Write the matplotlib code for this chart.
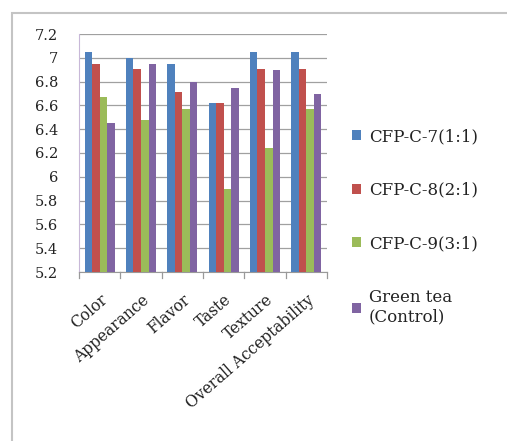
import matplotlib.pyplot as plt
import numpy as np
from matplotlib.patches import Rectangle

categories = ["Color", "Appearance", "Flavor", "Taste", "Texture", "Overall Acceptability"]
series_names = ["CFP-C-7(1:1)", "CFP-C-8(2:1)", "CFP-C-9(3:1)", "Green tea\n(Control)"]
cfp7 = [7.05, 7.00, 6.95, 6.62, 7.05, 7.05]
cfp8 = [6.95, 6.91, 6.71, 6.62, 6.91, 6.91]
cfp9 = [6.67, 6.48, 6.57, 5.90, 6.24, 6.57]
green_tea = [6.45, 6.95, 6.80, 6.75, 6.90, 6.70]
yticks = [5.2, 5.4, 5.6, 5.8, 6.0, 6.2, 6.4, 6.6, 6.8, 7.0, 7.2]
ytick_labels = ["5.2", "5.4", "5.6", "5.8", "6", "6.2", "6.4", "6.6", "6.8", "7", "7.2"]

colors = ["#4F81BD", "#C0504D", "#9BBB59", "#8064A2"]

plt.rcParams['font.family'] = ['DejaVu Serif']
plt.rcParams['text.color'] = '#222222'

fig = plt.figure(figsize=(5.07, 4.41), dpi=100)
W, H = 507, 441
ax = fig.add_axes([79 / W, 1 - 272 / H, 248 / W, 238 / H])

# outer chart frame
fig.patches.append(Rectangle((12 / W, -0.1), 1.2, 1 - 13 / H + 0.1, transform=fig.transFigure,
                             fill=False, edgecolor="#c4c4c4", linewidth=1.5))

x = np.arange(len(categories))
bw = 0.73 / 4
for i, vals in enumerate([cfp7, cfp8, cfp9, green_tea]):
    ax.bar(x - 0.365 + bw * (i + 0.5), np.array(vals) - 5.2, bw, bottom=5.2,
           color=colors[i], label=series_names[i], zorder=3)

ax.set_xlim(-0.5, len(categories) - 0.5)
ax.set_ylim(5.2, 7.2)
ax.set_yticks(yticks)
ax.set_yticklabels(ytick_labels, fontsize=10.5, color="#222222")
ax.yaxis.grid(True, color="#a0a0a0", linewidth=0.9, zorder=0)
ax.tick_params(axis='y', length=0, pad=15)

ax.set_xticks(x)
ax.set_xticklabels(categories, rotation=41, ha='right', rotation_mode='anchor', fontsize=11.2,
                   color="#222222")
ax.tick_params(axis='x', length=0, pad=14)
# category separator ticks below the axis
for b in np.arange(-0.5, len(categories), 1.0):
    ax.plot([b, b], [0, -0.025], transform=ax.get_xaxis_transform(), color="#999999",
            linewidth=0.9, clip_on=False)

for s in ["top", "right"]:
    ax.spines[s].set_visible(False)
ax.spines["left"].set_color("#c8b8d8")
ax.spines["bottom"].set_color("#999999")

ax.legend(loc='upper left', bbox_to_anchor=(352 / W, 1 - 128 / H), bbox_transform=fig.transFigure,
          frameon=False, fontsize=12, handlelength=0.55, handleheight=0.55, handletextpad=0.45,
          labelspacing=2.2, borderaxespad=0, borderpad=0)

fig.savefig("out.png", dpi=100)
